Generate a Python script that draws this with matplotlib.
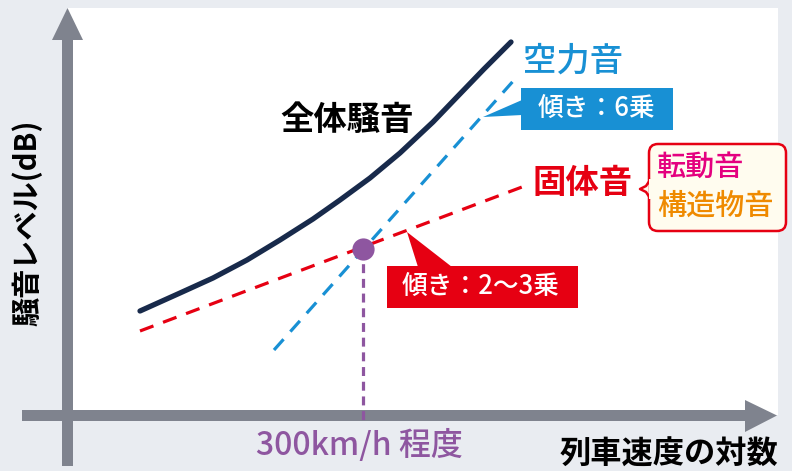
import matplotlib
matplotlib.use("Agg")
import matplotlib.pyplot as plt
from matplotlib.patches import Rectangle, Polygon, FancyBboxPatch

plt.rcParams['font.family'] = ['Noto Sans CJK JP', 'DejaVu Sans']

# ---- data (in the diagram's own coordinate units) ----
total_x = [140, 180, 213, 247, 280, 313, 340, 370, 400, 433, 457, 484, 511]
total_y = [311, 293, 278, 260, 240, 219, 200, 178, 153, 122, 97, 69, 42]
aero_x = [274, 515]
aero_y = [350, 79]
solid_x = [140, 522]
solid_y = [331, 187]
cross_x = [363]
cross_y = [249]
axis_bottom = 424

label_total = "全体騒音"
label_aero = "空力音"
label_aero_slope = "傾き：6乗"
label_solid = "固体音"
label_solid_slope = "傾き：2〜3乗"
label_rolling = "転動音"
label_struct = "構造物音"
label_speed = "300km/h 程度"
xlabel = "列車速度の対数"
ylabel = "騒音レベル(dB)"

NAVY = "#182a4b"
RED = "#e60012"
BLUE = "#1890d4"
PURPLE = "#8e56a0"
MAGENTA = "#e4007f"
ORANGE = "#ef8a00"
GRAY = "#7f838e"
BG = "#e9ecf1"

fig = plt.figure(figsize=(7.92, 4.71), dpi=100, facecolor=BG)
ax = fig.add_axes([0, 0, 1, 1])
ax.set_xlim(0, 792)
ax.set_ylim(471, 0)
ax.axis("off")
ax.set_facecolor(BG)

# white panel
ax.add_patch(Rectangle((67, 8), 711, 407, facecolor="white", edgecolor="none", zorder=0))

# axes arrows
ax.add_patch(Rectangle((62, 38), 11, 428, facecolor=GRAY, edgecolor="none", zorder=1))
ax.add_patch(Polygon([(52, 40), (83, 40), (67.5, 8)], closed=True, facecolor=GRAY, edgecolor="none", zorder=1))
ax.add_patch(Rectangle((22, 410), 725, 11, facecolor=GRAY, edgecolor="none", zorder=1))
ax.add_patch(Polygon([(745, 400), (745, 432), (777, 415.5)], closed=True, facecolor=GRAY, edgecolor="none", zorder=1))

# lines
ax.plot(solid_x, solid_y, color=RED, lw=2.3, dashes=(4.5, 3.2), zorder=3)
ax.plot(aero_x, aero_y, color=BLUE, lw=2.3, dashes=(4.5, 3.2), zorder=3)
ax.plot(total_x, total_y, color=NAVY, lw=3.8, solid_capstyle="round", solid_joinstyle="round", zorder=4)
ax.plot([cross_x[0], cross_x[0]], [cross_y[0], axis_bottom], color=PURPLE, lw=2.3, dashes=(2.8, 1.8), zorder=3)
ax.plot(cross_x, cross_y, "o", color=PURPLE, ms=16, mec="none", zorder=5)

# labels
ax.text(347, 120, label_total, fontsize=24, fontweight="bold", color="black", ha="center", va="center", zorder=6)
ax.text(573, 61, label_aero, fontsize=24, fontweight=500, color=BLUE, ha="center", va="center", zorder=6)
ax.text(583, 183, label_solid, fontsize=24, fontweight="bold", color=RED, ha="center", va="center", zorder=6)

# blue slope callout
ax.add_patch(Rectangle((521, 88), 152, 42, facecolor=BLUE, edgecolor="none", zorder=5))
ax.add_patch(Polygon([(522, 100), (522, 115), (483, 117)], closed=True, facecolor=BLUE, edgecolor="none", zorder=5))
ax.text(597, 108, label_aero_slope, fontsize=18.5, fontweight=500, color="white", ha="center", va="center", zorder=6)

# red slope callout
ax.add_patch(Rectangle((387, 266), 191, 42, facecolor=RED, edgecolor="none", zorder=5))
ax.add_patch(Polygon([(407, 232), (418, 267), (452, 267)], closed=True, facecolor=RED, edgecolor="none", zorder=5))
ax.text(481, 286, label_solid_slope, fontsize=18.5, fontweight=500, color="white", ha="center", va="center", zorder=6)

# bubble
ax.add_patch(FancyBboxPatch((649, 144), 137, 87, boxstyle="round,pad=0,rounding_size=9",
                            facecolor="#fffcef", edgecolor=RED, lw=1.8, zorder=5))
ax.add_patch(Polygon([(650, 180), (646, 186), (640, 189), (646, 192), (650, 198)], closed=True,
                     facecolor="#fffcef", edgecolor=RED, lw=1.8, joinstyle="round", zorder=5))
ax.add_patch(Rectangle((648.5, 179), 4, 20, facecolor="#fffcef", edgecolor="none", zorder=5.5))
ax.text(657, 167, label_rolling, fontsize=21, fontweight=500, color=MAGENTA, ha="left", va="center", zorder=6)
ax.text(657, 206, label_struct, fontsize=21, fontweight=500, color=ORANGE, ha="left", va="center", zorder=6)

# axis labels
ax.text(359, 445, label_speed, fontsize=23, fontweight=500, color=PURPLE, ha="center", va="center", zorder=6)
ax.text(778, 455, xlabel, fontsize=22.5, fontweight="bold", color="black", ha="right", va="center", zorder=6)
ax.text(27, 223, ylabel, fontsize=21, fontweight="bold", color="black", ha="center", va="center",
        rotation=90, zorder=6)

fig.savefig("out.png", dpi=100, facecolor=BG)
